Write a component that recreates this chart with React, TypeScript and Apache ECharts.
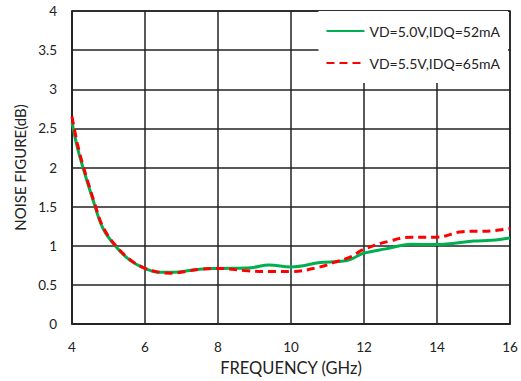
import React, { useEffect, useRef } from "react";
import * as echarts from "echarts";

const freqA = [4.0, 4.15, 4.3, 4.6, 4.85, 5.2, 5.6, 6.0, 6.4, 6.7, 7.5, 8.0, 8.9, 9.4, 10.0, 10.8, 11.3, 11.6, 12.0, 12.6, 13.3, 14.0, 15.0, 15.5, 16.0];
const nfA = [2.58, 2.25, 2.0, 1.55, 1.22, 0.99, 0.81, 0.71, 0.66, 0.66, 0.7, 0.71, 0.72, 0.755, 0.73, 0.785, 0.8, 0.82, 0.905, 0.96, 1.02, 1.015, 1.06, 1.07, 1.1];
const freqB = [4.0, 4.15, 4.3, 4.6, 4.85, 5.2, 5.6, 6.0, 6.4, 6.7, 7.5, 8.0, 8.8, 9.4, 10.0, 10.8, 11.2, 11.6, 12.0, 12.7, 13.3, 14.0, 14.7, 15.5, 16.0];
const nfB = [2.65, 2.3, 2.03, 1.57, 1.24, 1.0, 0.82, 0.71, 0.66, 0.65, 0.7, 0.71, 0.68, 0.67, 0.67, 0.73, 0.79, 0.85, 0.955, 1.06, 1.11, 1.11, 1.18, 1.19, 1.22];
const seriesNames = ["VD=5.0V,IDQ=52mA", "VD=5.5V,IDQ=65mA"];

const FONT = "Lato";

export default function App() {
  const ref = useRef<HTMLDivElement>(null);
  useEffect(() => {
    if (!ref.current) return;
    const chart = echarts.init(ref.current, null, { renderer: "svg" });
    chart.setOption({
      animation: false,
      backgroundColor: "#ffffff",
      textStyle: { fontFamily: FONT },
      grid: { left: 72, right: 11, top: 11, bottom: 56, show: true, borderColor: "#222", borderWidth: 1.5 },
      legend: {
        orient: "vertical",
        right: 13,
        top: 11,
        padding: [13, 8, 13, 7],
        itemGap: 18,
        itemWidth: 38,
        itemHeight: 14,
        backgroundColor: "#ffffff",
        itemStyle: { opacity: 0 },
        textStyle: { fontFamily: FONT, fontSize: 14, color: "#222" },
        data: seriesNames,
      },
      xAxis: {
        type: "value",
        min: 4,
        max: 16,
        interval: 2,
        name: "FREQUENCY (GHz)",
        nameLocation: "middle",
        nameGap: 35,
        nameTextStyle: { fontFamily: FONT, fontSize: 16.5, color: "#222", verticalAlign: "top" },
        axisLine: { show: true, lineStyle: { color: "#222", width: 1.5 } },
        axisTick: { show: false },
        axisLabel: { margin: 16, fontSize: 13.5, color: "#222", fontFamily: FONT },
        splitLine: { show: true, lineStyle: { color: "#222", width: 1.5 } },
      },
      yAxis: {
        type: "value",
        min: 0,
        max: 4,
        interval: 0.5,
        name: "NOISE FIGURE(dB)",
        nameLocation: "middle",
        nameGap: 42,
        nameTextStyle: { fontFamily: FONT, fontSize: 15, color: "#222" },
        axisLine: { show: true, lineStyle: { color: "#222", width: 1.5 } },
        axisTick: { show: false },
        axisLabel: { margin: 15, fontSize: 13.5, color: "#222", fontFamily: FONT },
        splitLine: { show: true, lineStyle: { color: "#222", width: 1.5 } },
      },
      series: [
        {
          name: seriesNames[0],
          type: "line",
          smooth: 0.4,
          symbol: "none",
          lineStyle: { color: "#00B050", width: 3 },
          itemStyle: { color: "#00B050" },
          data: freqA.map((f, i) => [f, nfA[i]]),
          z: 3,
        },
        {
          name: seriesNames[1],
          type: "line",
          smooth: 0.4,
          symbol: "none",
          lineStyle: { color: "#FF0000", width: 3, type: [8, 5] },
          itemStyle: { color: "#FF0000" },
          data: freqB.map((f, i) => [f, nfB[i]]),
          z: 4,
        },
      ],
    });
    return () => chart.dispose();
  }, []);
  return <div ref={ref} style={{ width: 521, height: 381, position: "absolute", left: 0, top: 0 }} />;
}
